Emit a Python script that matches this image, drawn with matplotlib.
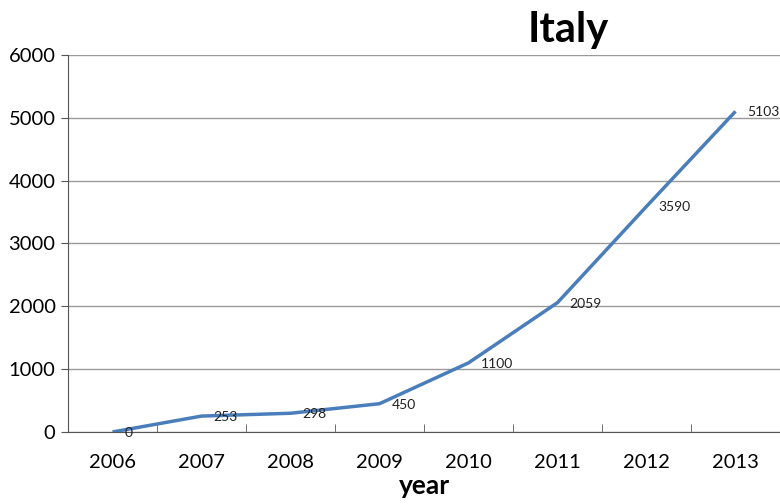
import matplotlib
matplotlib.use("Agg")
import matplotlib.pyplot as plt

years = ["2006", "2007", "2008", "2009", "2010", "2011", "2012", "2013"]
values = [0, 253, 298, 450, 1100, 2059, 3590, 5103]
y_ticks = [0, 1000, 2000, 3000, 4000, 5000, 6000]

plt.rcParams["font.family"] = ["Lato", "DejaVu Sans"]

fig = plt.figure(figsize=(7.8, 5.04), dpi=100)
ax = fig.add_axes([0.0872, 0.1429, 0.9128, 0.748])

x = list(range(len(years)))
ax.plot(x, values, color="#4a7ebb", linewidth=2.5, solid_capstyle="butt")

for xi, v in zip(x, values):
    ax.annotate(str(v), (xi, v), xytext=(12, -1), textcoords="offset pixels",
                fontsize=10, color="#222222", ha="left", va="center")

ax.set_xlim(-0.5, len(years) - 0.5)
ax.set_ylim(0, 6000)
ax.set_yticks(y_ticks)
ax.set_xticks(x)
ax.set_xticklabels(years)
# category ticks sit between the labels
ax.set_xticks([i - 0.5 for i in range(len(years) + 1)], minor=True)
ax.tick_params(axis="x", which="major", length=0, pad=16, labelsize=14.5)
ax.tick_params(axis="x", which="minor", length=6, direction="in", color="#555555")
ax.tick_params(axis="y", length=5, color="#555555", labelsize=14.5, pad=4)

ax.grid(axis="y", color="#9a9a9a", linewidth=1)
ax.set_axisbelow(True)
for side in ["top", "right"]:
    ax.spines[side].set_visible(False)
ax.spines["left"].set_color("#555555")
ax.spines["bottom"].set_color("#555555")

ax.set_xlabel("year", fontsize=19, fontweight="bold", labelpad=2)
fig.text(0.728, 0.94, "Italy", fontsize=30, fontweight="bold", ha="center", va="center")

fig.savefig("out.png", dpi=100)
